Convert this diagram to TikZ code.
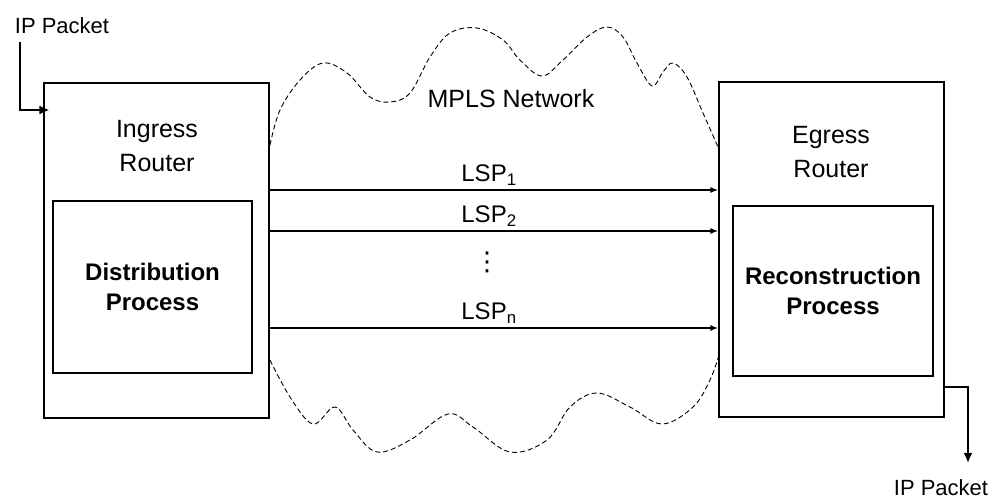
\documentclass[tikz,border=0pt]{standalone}
\usepackage{fontspec}
\setmainfont{Liberation Sans}
\newfontfamily\dotsfont{DejaVu Sans}
\usetikzlibrary{arrows.meta}

\begin{document}
\begin{tikzpicture}[x=1pt, y=-1pt,
    box/.style={draw, line width=1.1pt, inner sep=0pt},
    title text/.style={align=center, font=\fontsize{25}{34}\selectfont},
    proc text/.style={align=center, font=\bfseries\fontsize{24}{30}\selectfont},
    lsp/.style={line width=1.6pt, -{Latex[length=8pt,width=6pt]}},
    lsp label/.style={font=\fontsize{24}{28}\selectfont, inner sep=1pt},
    packet/.style={line width=2.8pt, -{Latex[length=10pt,width=9pt]}},
    pkt text/.style={font=\fontsize{22}{26}\selectfont},
    cloud/.style={line width=0.9pt, dash pattern=on 5pt off 3pt}]
    \useasboundingbox (0,0) rectangle (993,501);

    % --- Ingress Router ---
    \node[box, minimum width=225, minimum height=335] (ingress) at (156.5,250.5) {};
    \node[title text] (ingress title) at (157,146) {Ingress\\Router};
    \node[box, proc text, minimum width=199, minimum height=172] (dist) at (152.5,287) {Distribution\\Process};

    % --- Egress Router ---
    \node[box, minimum width=225, minimum height=335] (egress) at (831.5,249.5) {};
    \node[title text] (egress title) at (831,152) {Egress\\Router};
    \node[box, proc text, minimum width=200, minimum height=170] (recon) at (833,291) {Reconstruction\\Process};

    % --- MPLS cloud ---
    \draw[cloud] plot[smooth, tension=0.6] coordinates {(270,145) (280,110) (300,80) (323,63) (347,73) (370,97) (390,102)
        (410,93) (430,57) (450,33) (477,28) (503,40) (520,60) (542,76) (563,60) (587,37) (607,27) (623,37)
        (637,63) (652,86) (663,72) (673,63) (687,77) (703,113) (718,147)};
    \draw[cloud] plot[smooth, tension=0.6] coordinates {(270,360) (290,397) (313,424) (335,407) (353,430) (377,452)
        (410,440) (448,414) (473,427) (510,452) (547,440) (570,407) (597,393) (630,407) (662,424) (693,407)
        (710,380) (719,355)};
    \node[title text] (mpls) at (511,99) {MPLS Network};

    % --- LSPs ---
    \foreach \y/\k in {190/1, 231/2, 328/n} {
        \draw[lsp] (ingress.east |- 0,\y) -- (egress.west |- 0,\y)
            node[midway, above=3pt, xshift=-5pt, lsp label] (lsp\k) {LSP\textsubscript{\k}};
    }
    \node[lsp label, font=\dotsfont\fontsize{26}{28}\selectfont] (lsp dots) at (487,262) {⋮};

    % --- IP packets ---
    \node[pkt text] (pkt in) at (62,26) {IP Packet};
    \coordinate (in start) at (20,42);
    \draw[packet, shorten >=-6pt] (in start) |- (ingress.west |- 0,110);

    \node[pkt text] (pkt out) at (941,488) {IP Packet};
    \coordinate (out end) at (968,463);
    \draw[packet] (egress.east |- 0,387) -| (out end);
\end{tikzpicture}
\end{document}
